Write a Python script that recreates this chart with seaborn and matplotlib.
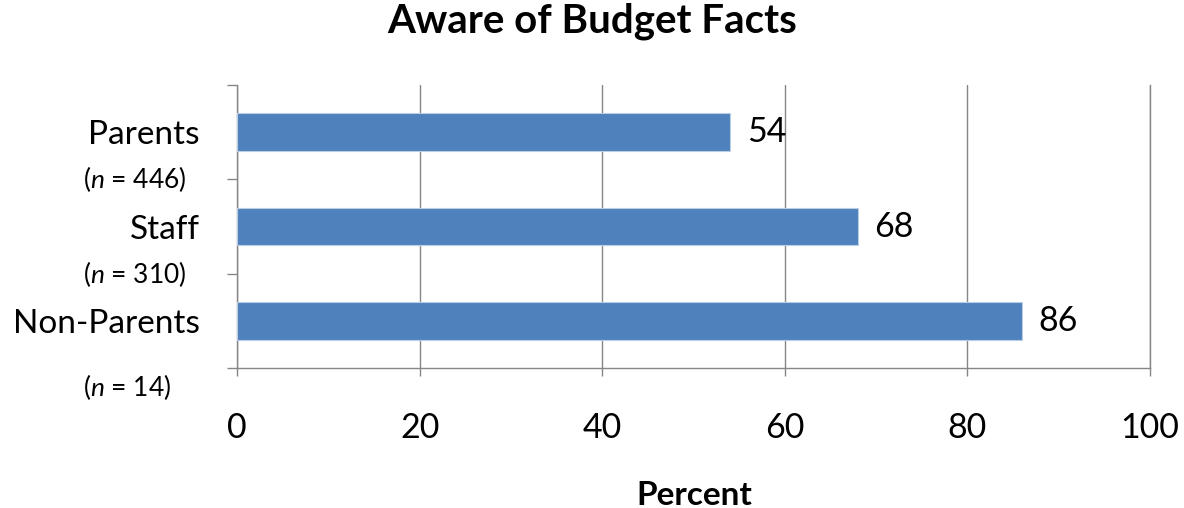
import matplotlib
matplotlib.use("Agg")
import matplotlib.pyplot as plt
import matplotlib.transforms as mtransforms
import seaborn as sns
import pandas as pd

# Survey results: share of each group aware of budget facts
groups = ["Parents", "Staff", "Non-Parents"]
sample_sizes = ["446", "310", "14"]
percent_aware = [54, 68, 86]
x_ticks = [0, 20, 40, 60, 80, 100]

sns.set_theme(style="white")
plt.rcParams["font.family"] = ["Lato", "DejaVu Sans"]
plt.rcParams["text.color"] = "black"
plt.rcParams["mathtext.fontset"] = "custom"
plt.rcParams["mathtext.rm"] = "Lato"
plt.rcParams["mathtext.it"] = "Lato:italic"

df = pd.DataFrame({"group": groups, "percent": percent_aware})

fig = plt.figure(figsize=(11.84, 5.08), dpi=100)
ax = fig.add_axes([237 / 1184, 1 - 368 / 508, (1150 - 237) / 1184, (368 - 85) / 508])

bar_color = "#4F81BD"
grid_color = "#868686"

sns.barplot(data=df, x="percent", y="group", order=groups, color=bar_color,
            saturation=1, width=0.4, edgecolor="#B9CDE5", linewidth=0.8,
            ax=ax, zorder=3)

ax.set_xlim(0, 100)
ax.set_ylim(2.5, -0.5)

# vertical gridlines
ax.set_xticks(x_ticks)
ax.set_xticklabels([str(t) for t in x_ticks], fontsize=24.5, color="black")
ax.xaxis.grid(True, color=grid_color, linewidth=1.0, zorder=0)
ax.yaxis.grid(False)
ax.tick_params(axis="x", which="major", direction="out", length=6, width=1.0,
               color=grid_color, pad=26, bottom=True)

# category boundaries as ticks on the left, names at the centres
ax.set_yticks([-0.5, 0.5, 1.5, 2.5])
ax.set_yticklabels([])
ax.tick_params(axis="y", which="major", direction="out", length=7, width=1.0,
               color=grid_color, left=True)
ax.set_yticks([0, 1, 2], minor=True)
ax.set_yticklabels(groups, minor=True, fontsize=24, color="black")
ax.tick_params(axis="y", which="minor", length=0, pad=27)

ax.spines["top"].set_visible(False)
for side in ["left", "bottom", "right"]:
    ax.spines[side].set_color(grid_color)
    ax.spines[side].set_linewidth(1.0)

ax.set_ylabel("")
ax.set_xlabel("")

# value labels at the bar ends
for i, v in enumerate(percent_aware):
    ax.annotate(str(v), xy=(v, i), xytext=(12, 0), textcoords="offset points",
                ha="left", va="center", fontsize=24.5, color="black")

# sample sizes under each group name
trans = mtransforms.blended_transform_factory(fig.transFigure, ax.transData)
n_positions = [0.5, 1.5, 2.7]
for pos, n in zip(n_positions, sample_sizes):
    ax.text(83 / 1184, pos, r"($\it{n}$ = " + n + ")", transform=trans,
            fontsize=19, va="center", ha="left", color="black", clip_on=False)

fig.text(694 / 1184, 1 - 505 / 508, "Percent", ha="center", va="baseline",
         fontsize=24, fontweight="bold", color="black")

fig.suptitle("Aware of Budget Facts", x=0.5, y=1 - 33 / 508, va="baseline",
             fontsize=29, fontweight="bold", color="black")

fig.savefig("out.png", dpi=100)
